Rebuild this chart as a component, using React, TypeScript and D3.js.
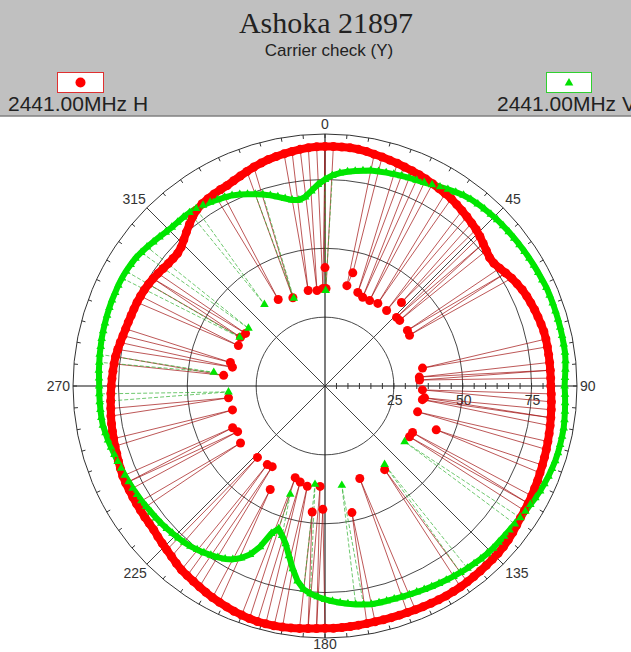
import React from 'react';
import * as d3 from 'd3';

const W = 631;
const H = 652;
const TITLE = 'Ashoka 21897';
const SUBTITLE = 'Carrier check (Y)';
const SERIES_LABELS = ['2441.00MHz H', '2441.00MHz V'];
const ANGLE_LABELS = [0, 45, 90, 135, 180, 225, 270, 315];
const RADIAL_LABELS = [25, 50, 75];
const R_MAX = 91.5;
const RING_STEP = 2;

// H polarisation (red), one value every 2 degrees starting at 0
const redRing = [
  87, 87, 87, 87, 86.8, 86.5, 86, 85.7, 85.3, 85, 84.6, 84.3, 84, 83.6, 83.2, 82.8, 82.4, 82, 81.4, 80.8,
  80.2, 79.6, 79, 78.2, 77.3, 76.5, 75.8, 75.8, 76.5, 77.4, 78.3, 79, 79.7, 80.2, 80.6, 81, 81.3, 81.6, 81.9, 82,
  82, 82, 82, 82, 82, 82, 82.2, 82.4, 82.6, 82.8, 83, 83.2, 83.4, 83.6, 83.8, 84, 84.2, 84.5, 84.7, 85,
  85.2, 85.4, 85.6, 86, 86.5, 86.9, 87.2, 87.4, 87.5, 87.6, 87.7, 87.8, 87.9, 88, 88, 88, 87.9, 87.8, 87.7, 87.6,
  87.5, 87.5, 87.5, 87.5, 87.5, 87.6, 87.7, 87.8, 87.9, 88, 88, 88.1, 88.3, 88.5, 88.7, 88.9, 89, 89, 89, 88.8,
  88.5, 88.2, 87.8, 87.4, 87, 86.5, 86, 85.5, 85.1, 84.7, 84, 83.3, 82.7, 82.2, 81.7, 81.2, 81, 80.9, 80.8, 80.7,
  80.6, 80.5, 80.5, 80.4, 80.1, 79.8, 79.5, 79.3, 79.1, 78.9, 78.7, 78.5, 78.2, 78, 77.8, 77.6, 77.4, 77.2, 77, 76.8,
  76.4, 76, 75.6, 75.3, 75.1, 74.9, 74.8, 74.7, 74.5, 74.3, 74, 73.6, 73.1, 72.6, 72.2, 72, 72, 72.6, 73.8, 75.2,
  76.6, 78, 79.1, 79.8, 80.2, 80.5, 80.8, 81, 81.6, 82.2, 82.9, 83.6, 84.2, 84.8, 85.2, 85.6, 86, 86.4, 86.7, 86.9,
];

// V polarisation (green), one value every 2 degrees starting at 0
const greenRing = [
  75, 76.5, 77.5, 78.2, 78.8, 79.4, 80, 80.3, 80.6, 80.9, 81.2, 81.5, 81.8, 82.2, 82.8, 83.5, 84.2, 84.9, 85.6, 86,
  86.3, 86.5, 86.7, 86.9, 87, 87.1, 87.2, 87.3, 87.4, 87.5, 87.6, 87.7, 87.8, 88, 88, 88, 88, 88, 88, 88,
  88, 88, 87.8, 87.5, 87.2, 87, 87.2, 87.4, 87.6, 87.8, 88, 88, 88, 88, 87.9, 87.7, 87.5, 87.2, 86.9, 86.5,
  86.1, 85.8, 85.5, 85.2, 85, 84.9, 84.8, 84.8, 84.7, 84.5, 84.2, 84, 83.7, 83.4, 83.1, 82.8, 82.5, 82.2, 81.9, 81.7,
  81.5, 81.3, 81.2, 81.1, 81, 80.6, 80.1, 79.5, 78.9, 78.2, 77.5, 76.6, 75.6, 74.2, 71.5, 67.4, 63, 59, 56.5, 54.5,
  57, 63, 67, 69.5, 71.3, 72.5, 73.4, 74.1, 74.8, 75.4, 76, 76.4, 76.7, 77, 77.3, 77.6, 77.8, 78, 78.3, 78.6,
  78.8, 79.1, 79.3, 79.6, 79.8, 80.1, 80.4, 80.8, 81.2, 81.5, 81.9, 82, 82, 82, 82, 82, 82.1, 82.3, 82.4, 82.6,
  82.7, 82.9, 83, 83.1, 83.2, 83.3, 83.4, 83.4, 83.5, 83.5, 83.4, 83.2, 83, 82.5, 82, 81.4, 80.9, 80.4, 80.1, 80,
  80, 79.9, 79.6, 79.2, 78.7, 78.1, 77.6, 77, 76.1, 75.1, 74.1, 73.1, 72, 70.8, 69.6, 68.6, 68.2, 69, 71, 73.2,
];

// dropout readings [angle, value]
const redDrops: [number, number][] = [
  [0, 43], [0.6, 35.4], [12.3, 37.3], [13.8, 42.3], [19.3, 36], [23, 35], [27.6, 35], [32.6, 35.6],
  [39.2, 35.4], [42.5, 41.1], [46.2, 36], [48.7, 36.1], [56, 36.1], [59, 35.8], [79.6, 36], [84.6, 34.4],
  [86.4, 34.4], [92.3, 35.4], [96.8, 36.4], [98, 35.7], [105.6, 34.9], [111.5, 43.4], [118, 36], [121, 35.8],
  [144.5, 37.3], [159.4, 35.9], [168, 47], [181, 44.8], [182.8, 36.5], [185.8, 46], [190, 37], [194.5, 36],
  [198, 35], [207.9, 42.5], [213.2, 35], [216.3, 35.4], [223.4, 35.7], [236, 37], [242.4, 35.8], [245.7, 36.8],
  [255.5, 34.7], [263, 35.3], [276, 37], [281.5, 34.3], [284, 35.4], [295, 34.7], [300, 35.4], [303.5, 34.6],
  [331.6, 35.7], [340, 34.1], [350, 35.2], [355.2, 34.8], [358.8, 35.4],
];
const greenDrops: [number, number][] = [
  [0.4, 34.7], [125, 35.3], [142.8, 35.8], [170.4, 36.6], [185.8, 35.9], [197.8, 41.3],
  [266.5, 35.1], [277, 40.7], [299.7, 35.7], [307, 34.8], [323.4, 36.9], [340.4, 33.8],
];

const CX = 325;
const CY = 386;
const R_PX = 252;

type Pt = { a: number; v: number };

function ringPts(ring: number[]): Pt[] {
  return ring.map((v, i) => ({ a: i * RING_STEP, v }));
}

function build(ring: number[], drops: [number, number][]): Pt[] {
  const pts: Pt[] = ringPts(ring);
  drops.forEach(([a, v]) => pts.push({ a, v }));
  pts.sort((p, q) => p.a - q.a);
  return pts;
}

export default function App() {
  const rScale = d3.scaleLinear().domain([0, R_MAX]).range([0, R_PX]);
  const aScale = d3.scaleLinear().domain([0, 360]).range([0, 2 * Math.PI]);
  const redPts = build(redRing, redDrops);
  const greenPts = build(greenRing, greenDrops);
  const line = d3
    .lineRadial<Pt>()
    .angle((d) => aScale(d.a))
    .radius((d) => rScale(d.v))
    .curve(d3.curveLinearClosed);
  const pos = (a: number, v: number) => d3.pointRadial(aScale(a), rScale(v));
  const tri = d3.symbol(d3.symbolTriangle, 32)() as string;
  const angTicks = d3.range(0, 360, 5);
  const radTicks = d3.range(25 / 6, R_MAX, 25 / 6);

  const outer = (a: number) => d3.pointRadial(aScale(a), R_PX);
  const labelPos = (a: number): { x: number; y: number; anchor: string } => {
    const [x, y] = outer(a);
    switch (a) {
      case 0: return { x, y: y - 5, anchor: 'middle' };
      case 45: return { x: x + 2, y: y - 4, anchor: 'start' };
      case 90: return { x: x + 3, y: y + 5, anchor: 'start' };
      case 135: return { x: x + 2, y: y + 14, anchor: 'start' };
      case 180: return { x, y: y + 11, anchor: 'middle' };
      case 225: return { x: x, y: y + 14, anchor: 'end' };
      case 270: return { x: x - 3, y: y + 5, anchor: 'end' };
      default: return { x: x - 1, y: y - 4, anchor: 'end' };
    }
  };

  return (
    <svg
      width={W}
      height={H}
      style={{ position: 'absolute', left: 0, top: 0, background: '#fff' }}
      fontFamily="'Liberation Sans', Arial, sans-serif"
    >
      {/* header */}
      <rect x={0} y={0} width={W} height={116} fill="#c0c0c0" />
      <line x1={0} x2={W} y1={116} y2={116} stroke="#808080" strokeWidth={1.5} />
      <text x={326} y={33} textAnchor="middle" fontFamily="'Liberation Serif', 'Times New Roman', serif" fontSize={30} fill="#222">
        {TITLE}
      </text>
      <text x={329} y={56} textAnchor="middle" fontSize={17} fill="#222">
        {SUBTITLE}
      </text>
      <rect x={57.5} y={72.5} width={46} height={20} fill="#fff" stroke="#e03030" />
      <circle cx={80.5} cy={82.5} r={5} fill="#ff0000" />
      <text x={8} y={111} fontSize={21} fill="#222">{SERIES_LABELS[0]}</text>
      <rect x={546.5} y={72.5} width={45} height={20} fill="#fff" stroke="#30d030" />
      <path d={tri} transform="translate(569,83)" fill="#00e000" />
      <text x={497} y={111} fontSize={21} fill="#222">{SERIES_LABELS[1]}</text>

      <g transform={`translate(${CX},${CY})`}>
        {/* grid */}
        {RADIAL_LABELS.map((t) => (
          <circle key={t} r={rScale(t)} fill="none" stroke="#333" strokeWidth={0.9} />
        ))}
        <circle r={R_PX} fill="none" stroke="#333" strokeWidth={1} />
        {ANGLE_LABELS.map((a) => {
          const [x, y] = outer(a);
          const axis = a % 90 === 0;
          return (
            <line key={a} x1={0} y1={0} x2={x} y2={y} stroke={axis ? '#111' : '#444'} strokeWidth={axis ? 1.1 : 1} />
          );
        })}
        {angTicks.map((a) => {
          const [x1, y1] = d3.pointRadial(aScale(a), R_PX);
          const [x2, y2] = d3.pointRadial(aScale(a), R_PX - 4);
          return <line key={a} x1={x1} y1={y1} x2={x2} y2={y2} stroke="#333" strokeWidth={1} />;
        })}
        {radTicks.map((t) => (
          <line key={t} x1={rScale(t)} x2={rScale(t)} y1={-3} y2={3} stroke="#333" strokeWidth={1} />
        ))}
        {RADIAL_LABELS.map((t) => (
          <text key={t} x={rScale(t) + 1} y={19} textAnchor="middle" fontSize={14} fill="#333">
            {t}
          </text>
        ))}

        {/* series connecting lines (thin), including dropouts */}
        <path d={line(redPts) as string} fill="none" stroke="#a01010" strokeWidth={0.7} />
        <path d={line(greenPts) as string} fill="none" stroke="#30b030" strokeWidth={0.7} strokeDasharray="4,2" />

        {/* dense marker bands along the main rings */}
        <path d={line(ringPts(redRing)) as string} fill="none" stroke="#ff0000" strokeWidth={8} strokeLinejoin="round" />
        <path d={line(ringPts(greenRing)) as string} fill="none" stroke="#00e600" strokeWidth={6} strokeLinejoin="round" />

        {/* markers */}
        {redPts.map((p, i) => {
          const [x, y] = pos(p.a, p.v);
          return <circle key={'r' + i} cx={x} cy={y} r={4.5} fill="#ff0000" />;
        })}
        {greenPts.map((p, i) => {
          const [x, y] = pos(p.a, p.v);
          return <path key={'g' + i} d={tri} transform={`translate(${x},${y})`} fill="#00e600" />;
        })}
      </g>

      {ANGLE_LABELS.map((a) => {
        const p = labelPos(a);
        return (
          <text key={a} x={CX + p.x} y={CY + p.y} textAnchor={p.anchor} fontSize={14} fill="#333">
            {a}
          </text>
        );
      })}
    </svg>
  );
}
